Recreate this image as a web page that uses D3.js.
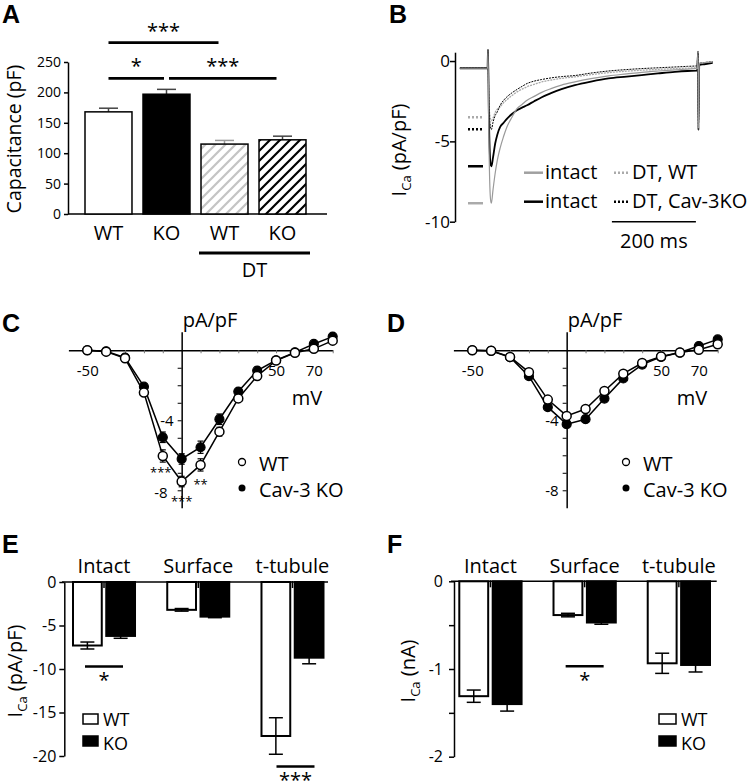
<!DOCTYPE html>
<html><head><meta charset="utf-8">
<script src="https://cdn.jsdelivr.net/npm/d3@7"></script>
<style>body{margin:0;background:#fff} svg{display:block}</style>
</head><body><svg id="fig" width="750" height="781"></svg>
<script>
// ---------------- DATA ----------------
// Panel A: capacitance
const capIds = ["WT", "KO", "DT WT", "DT KO"];
const capLabels = ["WT", "KO", "WT", "KO"];
const capMean = [168, 197, 115, 122];
const capSem = [6, 8, 6, 6];
const capTicks = [0, 50, 100, 150, 200, 250];
const capSig = [["WT", "DT WT", "***"], ["WT", "KO", "*"], ["KO", "DT KO", "***"]];
const capSigLevel = [282, 223, 223];

// Panel B: current traces (ms, pA/pF)
const bTime = [-67, -1, 0, 2, 6, 8, 12, 17, 22, 29, 37, 45, 57, 69, 81, 93, 110, 128, 150, 175, 207, 245, 287, 330, 366, 405, 445, 475, 498, 500, 501, 503, 515, 535];
const bIntactWT = [-0.45, -0.45, 0.7, -4.5, -8.6, -8.85, -8.0, -7.0, -6.2, -5.4, -4.7, -4.1, -3.5, -2.96, -2.7, -2.44, -2.2, -1.95, -1.72, -1.5, -1.3, -1.1, -0.92, -0.8, -0.7, -0.62, -0.55, -0.5, -0.46, 0.6, -4.2, -0.15, -0.1, -0.05];
const bIntactKO = [-0.45, -0.45, 0.7, -3.2, -6.4, -6.56, -6.0, -5.15, -4.6, -4.1, -3.85, -3.6, -3.3, -3.06, -2.9, -2.75, -2.5, -2.25, -2.0, -1.75, -1.5, -1.28, -1.08, -0.97, -0.875, -0.77, -0.67, -0.62, -0.6, 0.5, -4.3, -0.25, -0.2, -0.12];
const bDTWT = [-0.45, -0.45, 0.7, -2.6, -3.6, -3.7, -3.55, -3.2, -3.0, -2.85, -2.6, -2.4, -2.15, -1.92, -1.75, -1.6, -1.45, -1.3, -1.18, -1.08, -0.98, -0.85, -0.72, -0.63, -0.57, -0.52, -0.47, -0.44, -0.42, 0.6, -4.0, -0.15, -0.1, -0.05];
const bDTKO = [-0.45, -0.45, 0.7, -2.8, -4.1, -4.27, -3.8, -3.4, -3.17, -2.75, -2.45, -2.23, -1.98, -1.77, -1.58, -1.4, -1.25, -1.15, -1.05, -0.97, -0.9, -0.75, -0.62, -0.53, -0.47, -0.42, -0.37, -0.33, -0.3, 0.6, -4.1, -0.15, -0.1, -0.05];
const bPeaks = [-3.5, -4.25, -6.55, -8.85];
const bTicks = [0, -5, -10];
const bLegendLabels = ["intact", "intact", "DT, WT", "DT, Cav-3KO"];

// Panels C, D: I-V curves
const ivV = [-50, -40, -30, -20, -10, 0, 10, 20, 30, 40, 50, 60, 70, 80];
const cWT = [0, -0.08, -0.46, -2.42, -6.04, -7.5, -6.55, -4.65, -2.75, -1.47, -0.59, -0.14, 0.08, 0.55];
const cWTsem = [0.03, 0.03, 0.05, 0.15, 0.35, 0.3, 0.35, 0.25, 0.15, 0.1, 0.05, 0.05, 0.05, 0.05];
const cKO = [0, -0.06, -0.42, -2.08, -4.97, -6.21, -5.54, -3.94, -2.36, -1.16, -0.57, -0.12, 0.36, 0.78];
const cKOsem = [0.03, 0.03, 0.05, 0.15, 0.3, 0.3, 0.35, 0.3, 0.15, 0.1, 0.05, 0.05, 0.05, 0.05];
const cStars = ["", "", "", "", "***", "***", "**", "", "", "", "", "", "", ""];
const dWT = [0, -0.03, -0.38, -1.25, -2.82, -3.75, -3.36, -2.33, -1.34, -0.73, -0.36, -0.13, 0.03, 0.34];
const dWTsem = [0.03, 0.03, 0.05, 0.1, 0.15, 0.2, 0.15, 0.12, 0.1, 0.05, 0.05, 0.05, 0.05, 0.05];
const dKO = [0, -0.03, -0.4, -1.48, -3.25, -4.22, -3.94, -2.76, -1.61, -0.82, -0.38, -0.13, 0.24, 0.62];
const dKOsem = [0.03, 0.03, 0.05, 0.1, 0.15, 0.2, 0.18, 0.12, 0.1, 0.05, 0.05, 0.05, 0.05, 0.05];
const ivXTicks = [-50, -40, -30, -20, -10, 10, 20, 30, 40, 50, 60, 70, 80];
const ivXLabels = [-50, 50, 70];
const ivYTicks = [-1, -2, -3, -4, -5, -6, -7, -8];
const ivYLabels = [-4, -8];

// Panels E, F: bars
const regions = ["Intact", "Surface", "t-tubule"];
const eWT = [-7.3, -3.2, -17.7];
const eWTsem = [0.4, 0.15, 2.1];
const eKO = [-6.2, -3.98, -8.7];
const eKOsem = [0.27, 0.12, 0.7];
const eTicks = [0, -5, -10, -15, -20];
const eSig = [["Intact", -9.7, "*"], ["t-tubule", -21.2, "***"]];
const fWT = [-1.31, -0.385, -0.935];
const fWTsem = [0.07, 0.02, 0.115];
const fKO = [-1.40, -0.47, -0.954];
const fKOsem = [0.08, 0.02, 0.08];
const fTicks = [0, -0.5, -1, -1.5, -2];
const fSig = [["Surface", -0.97, "*"]];

// ---------------- DRAWING ----------------
const FONT = '"Open Sans", "Noto Sans", sans-serif';
const svg = d3.select("#fig");
svg.append("rect").attr("width", 750).attr("height", 781).attr("fill", "#fff");
const defs = svg.append("defs");

function hatch(id, color) {
  const p = defs.append("pattern").attr("id", id).attr("patternUnits", "userSpaceOnUse")
    .attr("width", 10).attr("height", 10);
  p.append("rect").attr("width", 10).attr("height", 10).attr("fill", "#fff");
  p.append("path").attr("d", "M-2,2 L2,-2 M0,10 L10,0 M8,12 L12,8")
    .attr("stroke", color).attr("stroke-width", 2.2);
}
hatch("hatchG", "#c4c4c4");
hatch("hatchK", "#000");

function styleAxis(g, fs) {
  g.attr("font-family", null);
  g.select(".domain").attr("stroke", "#000").attr("stroke-width", 1.5);
  g.selectAll(".tick line").attr("stroke", "#000").attr("stroke-width", 1.5);
  g.selectAll(".tick text").attr("font-family", FONT).attr("font-size", fs).attr("fill", "#000");
}
function txt(x, y, s, fs, anchor) {
  return svg.append("text").attr("x", x).attr("y", y).attr("font-family", FONT)
    .attr("font-size", fs).attr("text-anchor", anchor || "start").attr("fill", "#000").text(s);
}
function panelLabel(s, x, y) {
  svg.append("text").attr("x", x).attr("y", y)
    .attr("font-family", '"Liberation Sans", Arial, sans-serif').attr("font-weight", "bold")
    .attr("font-size", 25).text(s);
}
function hline(x1, x2, y, w, c) {
  return svg.append("line").attr("x1", x1).attr("x2", x2).attr("y1", y).attr("y2", y)
    .attr("stroke", c || "#000").attr("stroke-width", w);
}
function vline(x, y1, y2, w, c) {
  return svg.append("line").attr("x1", x).attr("x2", x).attr("y1", y1).attr("y2", y2)
    .attr("stroke", c || "#000").attr("stroke-width", w);
}
function icaLabel(x, y, unit) {
  const t = svg.append("text").attr("transform", `translate(${x},${y}) rotate(-90)`)
    .attr("font-family", FONT).attr("font-size", 20).attr("text-anchor", "middle");
  t.append("tspan").text("I");
  t.append("tspan").attr("font-size", 13).attr("dy", 5).text("Ca");
  t.append("tspan").attr("dy", -5).text(" " + unit);
}

// ===== Panel A =====
panelLabel("A", 2, 23);
const xA = d3.scaleBand().domain(capIds).range([85, 306]).paddingInner(0.19);
const yA = d3.scaleLinear().domain([0, 250]).range([214, 62]);
const gAy = svg.append("g").attr("transform", "translate(68,0)")
  .call(d3.axisLeft(yA).tickValues(capTicks).tickSize(4).tickSizeOuter(0).tickPadding(3));
styleAxis(gAy, 14);
hline(68, xA.range()[1] + 21, yA(0), 1.5);
const capFill = ["#fff", "#000", "url(#hatchG)", "url(#hatchK)"];
const capErrCol = ["#444", "#444", "#9a9a9a", "#444"];
capIds.forEach((id, i) => {
  const cx = xA(id) + xA.bandwidth() / 2;
  vline(cx, yA(capMean[i]), yA(capMean[i] + capSem[i]), 1.5, capErrCol[i]);
  hline(cx - 9.5, cx + 9.5, yA(capMean[i] + capSem[i]), 1.5, capErrCol[i]);
  svg.append("rect").attr("x", xA(id)).attr("y", yA(capMean[i]))
    .attr("width", xA.bandwidth()).attr("height", yA(0) - yA(capMean[i]))
    .attr("fill", capFill[i]).attr("stroke", "#000").attr("stroke-width", 1.5);
  txt(cx, 240, capLabels[i], 20, "middle");
});
capSig.forEach((s, i) => {
  const c1 = xA(s[0]) + xA.bandwidth() / 2, c2 = xA(s[1]) + xA.bandwidth() / 2;
  const adjacent = capIds.indexOf(s[1]) - capIds.indexOf(s[0]) === 1;
  const x1 = c1 + (i === 2 ? 2.5 : 0), x2 = c2 - (adjacent ? 2.5 : 6);
  const y = yA(capSigLevel[i]);
  hline(x1, x2, y, 2.8);
  txt((x1 + x2) / 2, y - 5, s[2], 20, "middle");
});
hline(xA("DT WT") - 2, xA("DT KO") + xA.bandwidth() + 4, 253, 2.8);
txt((xA("DT WT") - 2 + xA("DT KO") + xA.bandwidth() + 4) / 2, 277, "DT", 20, "middle");
svg.append("text").attr("transform", "translate(21,139) rotate(-90)").attr("font-family", FONT)
  .attr("font-size", 19.5).attr("text-anchor", "middle").text("Capacitance (pF)");

// ===== Panel B =====
panelLabel("B", 389, 23);
const xB = d3.scaleLinear().domain([0, 200]).range([488, 572]);
const yB = d3.scaleLinear().domain([0.55, -10]).range([52.2, 221.7]);
const gBy = svg.append("g").attr("transform", "translate(455,0)")
  .call(d3.axisLeft(yB).tickValues(bTicks).tickSize(5).tickSizeOuter(0).tickPadding(0).tickFormat(d => String(d)));
styleAxis(gBy, 17);
const lineB = d3.line().x(d => xB(d[0])).y(d => yB(d[1])).curve(d3.curveMonotoneX);
const traces = [
  [bDTWT, "#a8a8a8", 1.3, "2,1"],
  [bDTKO, "#000", 1.0, "2,1"],
  [bIntactKO, "#000", 1.8, null],
  [bIntactWT, "#9a9a9a", 1.2, null]
];
traces.forEach(t => {
  svg.append("path").attr("d", lineB(d3.zip(bTime, t[0]))).attr("fill", "none")
    .attr("stroke", t[1]).attr("stroke-width", t[2]).attr("stroke-dasharray", t[3]);
});
const peakStyle = [["#aaa", "2,2"], ["#000", "2,2"], ["#000", null], ["#aaa", null]];
bPeaks.forEach((p, i) => {
  hline(468, 483, yB(p), 2.5, peakStyle[i][0]).attr("stroke-dasharray", peakStyle[i][1]);
});
// scale bar
hline(xB(295), xB(495), yB(-10), 1.5);
txt((xB(295) + xB(495)) / 2, 248, "200 ms", 20, "middle");
// legend
const legStyle = [["#a0a0a0", null], ["#000", null], ["#aaa", "2,2"], ["#000", "2,2"]];
bLegendLabels.forEach((lab, i) => {
  const col = i < 2 ? 0 : 1, row = i % 2;
  const lx = col === 0 ? 524 : 614, lw = col === 0 ? 19 : 15, tx = col === 0 ? 545 : 632;
  const ly = 172.7 + row * 29;
  hline(lx, lx + lw, ly, 2.5, legStyle[i][0]).attr("stroke-dasharray", legStyle[i][1]);
  txt(tx, ly + 6, lab, 20);
});
icaLabel(406, 150, "(pA/pF)");

// ===== Panels C, D =====
function drawIV(label, lx, xr, wt, wtSem, ko, koSem, stars, legX) {
  panelLabel(label, lx, 332);
  const x = d3.scaleLinear().domain([-60, 80]).range(xr);
  const y = d3.scaleLinear().domain([1.06, -9]).range([331.7, 507.8]);
  const gx = svg.append("g").attr("transform", `translate(0,${y(0)})`)
    .call(d3.axisBottom(x).tickValues(ivXTicks).tickSize(3).tickSizeOuter(0).tickPadding(12)
      .tickFormat(d => ivXLabels.includes(d) ? String(d) : ""));
  styleAxis(gx, 15);
  gx.selectAll(".tick line").attr("stroke", "#777").attr("stroke-width", 1);
  const gy = svg.append("g").attr("transform", `translate(${x(0)},0)`)
    .call(d3.axisLeft(y).tickValues(ivYTicks).tickSize(4).tickSizeOuter(0).tickPadding(4)
      .tickFormat(d => ivYLabels.includes(d) ? String(d) : ""));
  styleAxis(gy, 15);
  gy.selectAll(".tick line").attr("stroke-width", 1);
  if (stars) gy.selectAll(".tick text").attr("dx", d => d === -8 ? -6 : 0).attr("dy", d => d === -8 ? "0.5em" : "0.32em");
  const ln = d3.line().x(d => x(d[0])).y(d => y(d[1]));
  [ko, wt].forEach(s => {
    svg.append("path").attr("d", ln(d3.zip(ivV, s))).attr("fill", "none")
      .attr("stroke", "#000").attr("stroke-width", 1.5);
  });
  [[ko, koSem], [wt, wtSem]].forEach(([s, e]) => {
    ivV.forEach((v, i) => {
      vline(x(v), y(s[i] - e[i]), y(s[i] + e[i]), 1.2);
      hline(x(v) - 3, x(v) + 3, y(s[i] - e[i]), 1.2);
      hline(x(v) - 3, x(v) + 3, y(s[i] + e[i]), 1.2);
    });
  });
  svg.append("g").selectAll("circle").data(d3.zip(ivV, ko)).join("circle")
    .attr("cx", d => x(d[0])).attr("cy", d => y(d[1])).attr("r", 4.5)
    .attr("fill", "#000").attr("stroke", "#000").attr("stroke-width", 1.2);
  svg.append("g").selectAll("circle").data(d3.zip(ivV, wt)).join("circle")
    .attr("cx", d => x(d[0])).attr("cy", d => y(d[1])).attr("r", 4.5)
    .attr("fill", "#fff").attr("stroke", "#000").attr("stroke-width", 1.5);
  if (stars) stars.forEach((s, i) => {
    if (s) txt(x(ivV[i]) + (i === 4 ? -2 : 0), y(wt[i]) + (i === 4 ? 21 : 24), s, 13, "middle");
  });
  txt(x(0) + 1, 327, "pA/pF", 20);
  txt(x(0) + 110, 405, "mV", 20);
  svg.append("circle").attr("cx", legX).attr("cy", 462).attr("r", 3.5).attr("fill", "#fff")
    .attr("stroke", "#000").attr("stroke-width", 1.3);
  svg.append("circle").attr("cx", legX).attr("cy", 488).attr("r", 3.5).attr("fill", "#000");
  txt(legX + 17, 471, "WT", 20);
  txt(legX + 17, 497, "Cav-3 KO", 20);
}
drawIV("C", 2, [68.4, 332.7], cWT, cWTsem, cKO, cKOsem, cStars, 242);
drawIV("D", 387, [453.4, 717.7], dWT, dWTsem, dKO, dKOsem, null, 626);

// ===== Panels E, F =====
function drawBars(o) {
  panelLabel(o.label, o.lx, 553);
  const xg = d3.scaleBand().domain(regions).range(o.xr).paddingInner(o.pi);
  const xs = d3.scaleBand().domain(["WT", "KO"]).range([0, xg.bandwidth()]).paddingInner(0.135);
  const y = o.y;
  const gy = svg.append("g").attr("transform", `translate(${o.axX},0)`)
    .call(d3.axisLeft(y).tickValues(o.ticks).tickSize(5).tickSizeOuter(0).tickPadding(o.tp).tickFormat(o.fmt));
  styleAxis(gy, 16);
  hline(o.axX0, o.axX1, y(0), 1.5);
  regions.forEach((r, i) => {
    const gc = xg(r) + xg.bandwidth() / 2;
    vline(gc, y(0) - 1, y(0) + 6, 1.5);
    txt(gc, 573, r, 20, "middle");
    [[o.wt, o.wtSem, "WT", "#fff"], [o.ko, o.koSem, "KO", "#000"]].forEach(([s, e, k, fill]) => {
      const bx = xg(r) + xs(k), cx = bx + xs.bandwidth() / 2;
      svg.append("rect").attr("x", bx).attr("y", y(0)).attr("width", xs.bandwidth())
        .attr("height", y(s[i]) - y(0)).attr("fill", fill).attr("stroke", "#000").attr("stroke-width", 2);
      vline(cx, y(s[i] + e[i]), y(s[i] - e[i]), 1.5);
      hline(cx - 7, cx + 7, y(s[i] + e[i]), 1.5);
      hline(cx - 7, cx + 7, y(s[i] - e[i]), 1.5);
    });
  });
  o.sig.forEach(([r, v, s]) => {
    const gc = xg(r) + xg.bandwidth() / 2 + (s.length > 1 ? 3 : 0);
    hline(gc - 19, gc + 19, y(v), 2.5);
    txt(gc, y(v) + 21, s, 20, "middle");
  });
  svg.append("rect").attr("x", o.legX).attr("y", 714).attr("width", o.legW).attr("height", 10)
    .attr("fill", "#fff").attr("stroke", "#000").attr("stroke-width", 1.5);
  svg.append("rect").attr("x", o.legX).attr("y", 736).attr("width", o.legW).attr("height", 10)
    .attr("fill", "#000").attr("stroke", "#000").attr("stroke-width", 1.5);
  txt(o.legX + o.legW + 5, 726, "WT", 18);
  txt(o.legX + o.legW + 5, 750, "KO", 18);
}
drawBars({
  label: "E", lx: 2, xr: [73, 323.5], pi: 0.342,
  y: d3.scaleLinear().domain([0, -20]).range([582, 756]),
  axX: 64.3, axX0: 62, axX1: 328, ticks: eTicks, tp: 3, fmt: d => String(d),
  wt: eWT, wtSem: eWTsem, ko: eKO, koSem: eKOsem, sig: eSig, legX: 83, legW: 15
});
drawBars({
  label: "F", lx: 387, xr: [459.3, 710], pi: 0.339,
  y: d3.scaleLinear().domain([0, -2]).range([581.3, 756.7]),
  axX: 454, axX0: 451, axX1: 716.7, ticks: fTicks, tp: 6, fmt: d => Number.isInteger(d) ? String(d) : "",
  wt: fWT, wtSem: fWTsem, ko: fKO, koSem: fKOsem, sig: fSig, legX: 659, legW: 17
});
icaLabel(22, 671, "(pA/pF)");
icaLabel(415, 671, "(nA)");
</script></body></html>
